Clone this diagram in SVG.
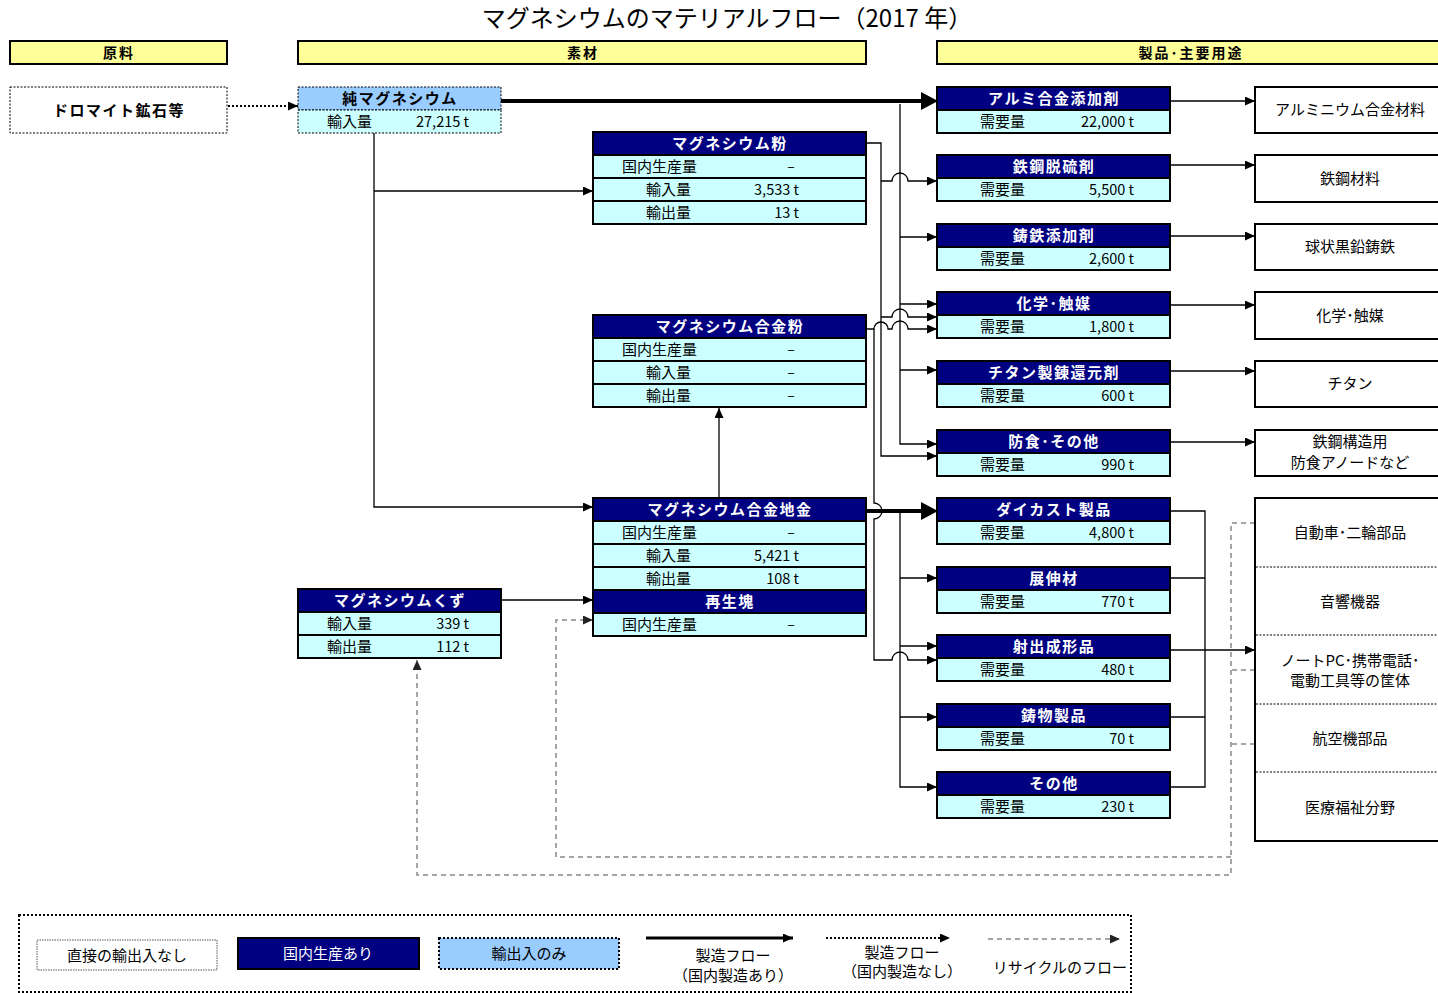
<svg xmlns="http://www.w3.org/2000/svg" width="1438" height="993" viewBox="0 0 1438 993">
<style>
text{font-family:"Noto Sans CJK JP","Noto Sans",sans-serif}
.title{font-size:24px;fill:#000;text-anchor:middle}
.sec{fill:#ffff99;stroke:#000;stroke-width:2}
.sect{font-size:14px;font-weight:bold;letter-spacing:2px;text-anchor:middle;fill:#000}
.hd{fill:#000080;stroke:#000;stroke-width:2}
.rw{fill:#ccffff;stroke:#000;stroke-width:2}
.hdb{fill:#99ccff;stroke:#000;stroke-width:1;stroke-dasharray:2,1.5}
.rwb{fill:#ccffff;stroke:#000;stroke-width:1;stroke-dasharray:2,1.5}
.ht{font-size:15px;font-weight:bold;letter-spacing:1.5px;text-anchor:middle;fill:#fff}
.htk{font-size:15px;font-weight:bold;letter-spacing:1.5px;text-anchor:middle;fill:#000}
.t{font-size:15px;fill:#000}
.v{font-size:14.5px;fill:#000;text-anchor:end}
.c{font-size:14px;fill:#000;text-anchor:middle}
.use{fill:#fff;stroke:#000;stroke-width:2}
.ut{font-size:15px;fill:#000;text-anchor:middle}
.ln{fill:none;stroke:#000;stroke-width:1.3}
.thick{fill:none;stroke:#000;stroke-width:4}
.dot{fill:none;stroke:#000;stroke-width:2;stroke-dasharray:2,2}
.rec{fill:none;stroke:#888;stroke-width:1.5;stroke-dasharray:5,4}
</style>
<defs>
<marker id="ar" markerUnits="userSpaceOnUse" markerWidth="10" markerHeight="9" refX="10" refY="4.5" orient="auto"><path d="M0,0 L10,4.5 L0,9 z" fill="#000"/></marker>
<marker id="art" markerUnits="userSpaceOnUse" markerWidth="18" markerHeight="18" refX="0" refY="9" orient="auto"><path d="M0,0 L17,9 L0,18 z" fill="#000"/></marker>
<marker id="arg" markerUnits="userSpaceOnUse" markerWidth="10" markerHeight="9" refX="10" refY="4.5" orient="auto"><path d="M0,0 L10,4.5 L0,9 z" fill="#222"/></marker>
</defs>
<rect width="1438" height="993" fill="#fff"/>
<text class="title" x="727" y="27">マグネシウムのマテリアルフロー（2017 年）</text>
<g id="sections">
<rect class="sec" x="10" y="41" width="217" height="23"/><text class="sect" x="119" y="58">原料</text>
<rect class="sec" x="298" y="41" width="568" height="23"/><text class="sect" x="583" y="58">素材</text>
<rect class="sec" x="937" y="41" width="506" height="23"/><text class="sect" x="1191" y="58">製品･主要用途</text>
</g>
<g id="connectors">
<path class="dot" d="M228,106 H298" marker-end="url(#ar)"/>
<path class="thick" d="M501,101 H921" marker-end="url(#art)"/>
<path class="ln" d="M374,133 V507 H593" marker-end="url(#ar)"/>
<path class="ln" d="M374,191 H593" marker-end="url(#ar)"/>
<path class="ln" d="M719,498 V408" marker-end="url(#ar)"/>
<path class="ln" d="M501,600 H593" marker-end="url(#ar)"/>
<path class="ln" d="M866,143 H881 V456 H937" marker-end="url(#ar)"/>
<path class="ln" d="M881,181 H892 A8,8 0 0 1 908,181 H937" marker-end="url(#ar)"/>
<path class="ln" d="M881,317 H892 A8,8 0 0 1 908,317 H937" marker-end="url(#ar)"/>
<path class="ln" d="M900,104 V444 H937" marker-end="url(#ar)"/>
<path class="ln" d="M900,237 H937" marker-end="url(#ar)"/>
<path class="ln" d="M900,304 H937" marker-end="url(#ar)"/>
<path class="ln" d="M900,370 H937" marker-end="url(#ar)"/>
<path class="ln" d="M866,329 H874 A7,7 0 0 1 888,329 H892 A8,8 0 0 1 908,329 H937" marker-end="url(#ar)"/>
<path class="ln" d="M874,329 V503 A8,8 0 0 1 874,519 V660 H892 A8,8 0 0 1 908,660 H937" marker-end="url(#ar)"/>
<path class="thick" d="M866,511 H921" marker-end="url(#art)"/>
<path class="ln" d="M900,511 V787 H937" marker-end="url(#ar)"/>
<path class="ln" d="M900,578 H937" marker-end="url(#ar)"/>
<path class="ln" d="M900,646 H937" marker-end="url(#ar)"/>
<path class="ln" d="M900,717 H937" marker-end="url(#ar)"/>
<path class="ln" d="M1170,101 H1255" marker-end="url(#ar)"/>
<path class="ln" d="M1170,165 H1255" marker-end="url(#ar)"/>
<path class="ln" d="M1170,236 H1255" marker-end="url(#ar)"/>
<path class="ln" d="M1170,305 H1255" marker-end="url(#ar)"/>
<path class="ln" d="M1170,371 H1255" marker-end="url(#ar)"/>
<path class="ln" d="M1170,442 H1255" marker-end="url(#ar)"/>
<path class="ln" d="M1170,511 H1205 V787 H1170"/>
<path class="ln" d="M1170,578 H1205"/>
<path class="ln" d="M1170,717 H1205"/>
<path class="ln" d="M1170,650 H1255" marker-end="url(#ar)"/>
<path class="rec" d="M1255,523 H1231 V875 H417 V660" marker-end="url(#arg)"/>
<path class="rec" d="M1255,670 H1231"/>
<path class="rec" d="M1255,744 H1231"/>
<path class="rec" d="M1231,857 H556 V620 H593" marker-end="url(#arg)"/>
</g>
<g id="dolomite">
<rect x="10" y="87" width="217" height="46" fill="#fff" stroke="#000" stroke-width="1" stroke-dasharray="2,1.5"/>
<text class="htk" x="119" y="116">ドロマイト鉱石等</text>
</g>
<g id="pure-mg">
<rect class="hdb" x="298" y="87" width="203" height="23"/>
<rect class="rwb" x="298" y="110" width="203" height="23"/>
<text class="htk" x="400" y="104">純マグネシウム</text>
<text class="t" x="327" y="127">輸入量</text><text class="v" x="469" y="127">27,215 t</text>
</g>
<g id="mg-powder">
<rect class="hd" x="593" y="132" width="273" height="23"/>
<rect class="rw" x="593" y="155" width="273" height="23"/>
<rect class="rw" x="593" y="178" width="273" height="23"/>
<rect class="rw" x="593" y="201" width="273" height="23"/>
<text class="ht" x="730" y="149">マグネシウム粉</text>
<text class="t" x="622" y="172">国内生産量</text><text class="c" x="791" y="171">–</text>
<text class="t" x="646" y="195">輸入量</text><text class="v" x="799" y="195">3,533 t</text>
<text class="t" x="646" y="218">輸出量</text><text class="v" x="799" y="218">13 t</text>
</g>
<g id="mg-alloy-powder">
<rect class="hd" x="593" y="315" width="273" height="23"/>
<rect class="rw" x="593" y="338" width="273" height="23"/>
<rect class="rw" x="593" y="361" width="273" height="23"/>
<rect class="rw" x="593" y="384" width="273" height="23"/>
<text class="ht" x="730" y="332">マグネシウム合金粉</text>
<text class="t" x="622" y="355">国内生産量</text><text class="c" x="791" y="354">–</text>
<text class="t" x="646" y="378">輸入量</text><text class="c" x="791" y="377">–</text>
<text class="t" x="646" y="401">輸出量</text><text class="c" x="791" y="400">–</text>
</g>
<g id="mg-alloy-ingot">
<rect class="hd" x="593" y="498" width="273" height="23"/>
<rect class="rw" x="593" y="521" width="273" height="23"/>
<rect class="rw" x="593" y="544" width="273" height="23"/>
<rect class="rw" x="593" y="567" width="273" height="23"/>
<rect class="hd" x="593" y="590" width="273" height="23"/>
<rect class="rw" x="593" y="613" width="273" height="23"/>
<text class="ht" x="730" y="515">マグネシウム合金地金</text>
<text class="t" x="622" y="538">国内生産量</text><text class="c" x="791" y="537">–</text>
<text class="t" x="646" y="561">輸入量</text><text class="v" x="799" y="561">5,421 t</text>
<text class="t" x="646" y="584">輸出量</text><text class="v" x="799" y="584">108 t</text>
<text class="ht" x="730" y="607">再生塊</text>
<text class="t" x="622" y="630">国内生産量</text><text class="c" x="791" y="629">–</text>
</g>
<g id="mg-scrap">
<rect class="hd" x="298" y="589" width="203" height="23"/>
<rect class="rw" x="298" y="612" width="203" height="23"/>
<rect class="rw" x="298" y="635" width="203" height="23"/>
<text class="ht" x="400" y="606">マグネシウムくず</text>
<text class="t" x="327" y="629">輸入量</text><text class="v" x="469" y="629">339 t</text>
<text class="t" x="327" y="652">輸出量</text><text class="v" x="469" y="652">112 t</text>
</g>
<g id="p-al">
<rect class="hd" x="937" y="87" width="233" height="23"/><rect class="rw" x="937" y="110" width="233" height="23"/>
<text class="ht" x="1054" y="104">アルミ合金添加剤</text>
<text class="t" x="980" y="127">需要量</text><text class="v" x="1134" y="127">22,000 t</text>
</g>
<g id="p-desulf">
<rect class="hd" x="937" y="155" width="233" height="23"/><rect class="rw" x="937" y="178" width="233" height="23"/>
<text class="ht" x="1054" y="172">鉄鋼脱硫剤</text>
<text class="t" x="980" y="195">需要量</text><text class="v" x="1134" y="195">5,500 t</text>
</g>
<g id="p-castiron">
<rect class="hd" x="937" y="224" width="233" height="23"/><rect class="rw" x="937" y="247" width="233" height="23"/>
<text class="ht" x="1054" y="241">鋳鉄添加剤</text>
<text class="t" x="980" y="264">需要量</text><text class="v" x="1134" y="264">2,600 t</text>
</g>
<g id="p-chem">
<rect class="hd" x="937" y="292" width="233" height="23"/><rect class="rw" x="937" y="315" width="233" height="23"/>
<text class="ht" x="1054" y="309">化学･触媒</text>
<text class="t" x="980" y="332">需要量</text><text class="v" x="1134" y="332">1,800 t</text>
</g>
<g id="p-ti">
<rect class="hd" x="937" y="361" width="233" height="23"/><rect class="rw" x="937" y="384" width="233" height="23"/>
<text class="ht" x="1054" y="378">チタン製錬還元剤</text>
<text class="t" x="980" y="401">需要量</text><text class="v" x="1134" y="401">600 t</text>
</g>
<g id="p-anti">
<rect class="hd" x="937" y="430" width="233" height="23"/><rect class="rw" x="937" y="453" width="233" height="23"/>
<text class="ht" x="1054" y="447">防食･その他</text>
<text class="t" x="980" y="470">需要量</text><text class="v" x="1134" y="470">990 t</text>
</g>
<g id="p-diecast">
<rect class="hd" x="937" y="498" width="233" height="23"/><rect class="rw" x="937" y="521" width="233" height="23"/>
<text class="ht" x="1054" y="515">ダイカスト製品</text>
<text class="t" x="980" y="538">需要量</text><text class="v" x="1134" y="538">4,800 t</text>
</g>
<g id="p-wrought">
<rect class="hd" x="937" y="567" width="233" height="23"/><rect class="rw" x="937" y="590" width="233" height="23"/>
<text class="ht" x="1054" y="584">展伸材</text>
<text class="t" x="980" y="607">需要量</text><text class="v" x="1134" y="607">770 t</text>
</g>
<g id="p-inject">
<rect class="hd" x="937" y="635" width="233" height="23"/><rect class="rw" x="937" y="658" width="233" height="23"/>
<text class="ht" x="1054" y="652">射出成形品</text>
<text class="t" x="980" y="675">需要量</text><text class="v" x="1134" y="675">480 t</text>
</g>
<g id="p-casting">
<rect class="hd" x="937" y="704" width="233" height="23"/><rect class="rw" x="937" y="727" width="233" height="23"/>
<text class="ht" x="1054" y="721">鋳物製品</text>
<text class="t" x="980" y="744">需要量</text><text class="v" x="1134" y="744">70 t</text>
</g>
<g id="p-other">
<rect class="hd" x="937" y="772" width="233" height="23"/><rect class="rw" x="937" y="795" width="233" height="23"/>
<text class="ht" x="1054" y="789">その他</text>
<text class="t" x="980" y="812">需要量</text><text class="v" x="1134" y="812">230 t</text>
</g>
<g id="u-al"><rect class="use" x="1255" y="87" width="190" height="46"/><text class="ut" x="1350" y="115">アルミニウム合金材料</text></g>
<g id="u-steel"><rect class="use" x="1255" y="155" width="190" height="47"/><text class="ut" x="1350" y="184">鉄鋼材料</text></g>
<g id="u-ductile"><rect class="use" x="1255" y="224" width="190" height="46"/><text class="ut" x="1350" y="252">球状黒鉛鋳鉄</text></g>
<g id="u-chem"><rect class="use" x="1255" y="292" width="190" height="47"/><text class="ut" x="1350" y="321">化学･触媒</text></g>
<g id="u-ti"><rect class="use" x="1255" y="361" width="190" height="46"/><text class="ut" x="1350" y="389">チタン</text></g>
<g id="u-anode"><rect class="use" x="1255" y="430" width="190" height="46"/><text class="ut" x="1350" y="447">鉄鋼構造用</text><text class="ut" x="1350" y="468">防食アノードなど</text></g>
<g id="u-struct">
<rect class="use" x="1255" y="498" width="190" height="343"/>
<path d="M1256,567 H1445 M1256,635 H1445 M1256,704 H1445 M1256,772 H1445" stroke="#000" stroke-width="1" stroke-dasharray="2,1.5" fill="none"/>
<text class="ut" x="1350" y="538">自動車･二輪部品</text>
<text class="ut" x="1350" y="607">音響機器</text>
<text class="ut" x="1350" y="666">ノートPC･携帯電話･</text>
<text class="ut" x="1350" y="686">電動工具等の筐体</text>
<text class="ut" x="1350" y="744">航空機部品</text>
<text class="ut" x="1350" y="813">医療福祉分野</text>
</g>
<g id="legend">
<rect x="19" y="915" width="1112" height="77" fill="none" stroke="#000" stroke-width="2" stroke-dasharray="2,2"/>
<rect x="37" y="940" width="180" height="30" fill="#fff" stroke="#555" stroke-width="1" stroke-dasharray="1.5,1"/>
<text class="ut" x="127" y="961">直接の輸出入なし</text>
<rect x="238" y="938" width="181" height="31" fill="#000080" stroke="#000" stroke-width="2"/>
<text class="ut" x="328" y="959" style="fill:#fff">国内生産あり</text>
<rect x="439" y="938" width="180" height="31" fill="#99ccff" stroke="#000" stroke-width="2" stroke-dasharray="2,2"/>
<text class="ut" x="529" y="959">輸出入のみ</text>
<path d="M646,938 H793" fill="none" stroke="#000" stroke-width="3" marker-end="url(#ar)"/>
<text class="ut" x="733" y="961">製造フロー</text>
<text class="ut" x="733" y="981">（国内製造あり）</text>
<path class="dot" d="M826,938 H950" marker-end="url(#ar)"/>
<text class="ut" x="902" y="958">製造フロー</text>
<text class="ut" x="902" y="977">（国内製造なし）</text>
<path class="rec" d="M988,939 H1120" marker-end="url(#arg)"/>
<text class="ut" x="1060" y="973">リサイクルのフロー</text>
</g>
</svg>
